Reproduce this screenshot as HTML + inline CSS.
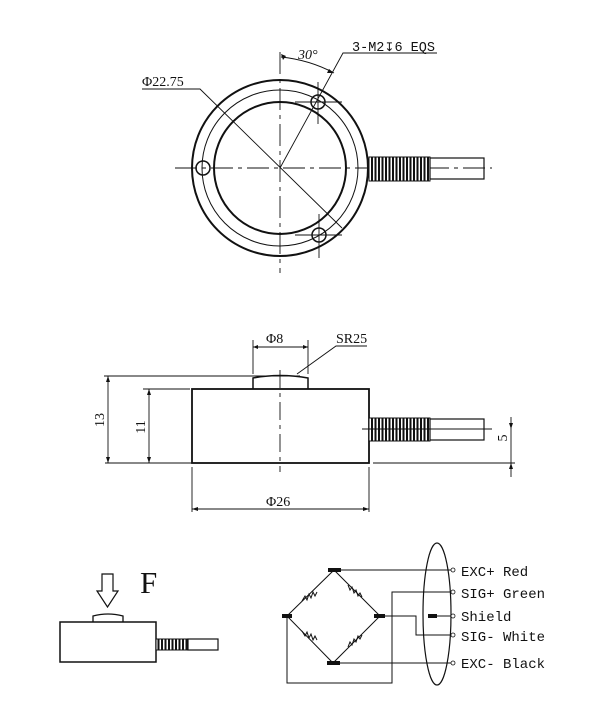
<!DOCTYPE html>
<html><head><meta charset="utf-8"><style>body{margin:0;background:#fff}svg{display:block}</style></head><body>
<svg width="600" height="706" viewBox="0 0 600 706" xmlns="http://www.w3.org/2000/svg" font-family="'Liberation Serif', serif">
<defs>
<pattern id="coil" width="3.5" height="10" patternUnits="userSpaceOnUse"><rect width="3.5" height="10" fill="#fff"/><rect width="2" height="10" fill="#111"/></pattern>
</defs>
<g stroke="#111" fill="none">
<circle cx="280" cy="168" r="88" stroke-width="2"/>
<circle cx="280" cy="168" r="78" stroke-width="1"/>
<circle cx="280" cy="168" r="66" stroke-width="2"/>
<circle cx="203" cy="168" r="7" stroke-width="1.5"/>
<circle cx="318" cy="102" r="7" stroke-width="1.5"/>
<circle cx="319" cy="235" r="7" stroke-width="1.5"/>
<g stroke-width="0.9" stroke-dasharray="22,5,4,5">
<line x1="175" y1="168" x2="492" y2="168"/>
<line x1="280" y1="52" x2="280" y2="273"/>
</g>
<g stroke-width="0.9">
<line x1="318" y1="82" x2="318" y2="124"/><line x1="295" y1="102" x2="342" y2="102"/>
<line x1="319" y1="214" x2="319" y2="258"/><line x1="295" y1="235" x2="342" y2="235"/>
<polyline points="142,89 200,89 342,228"/>
<polyline points="280,168 343,53 437,53"/>
<path d="M281 57 Q310 60 334 73"/>
</g>
<rect x="369" y="157" width="61" height="24" fill="url(#coil)" stroke-width="1"/>
<rect x="430" y="158" width="54" height="21" stroke-width="1.2"/>
<rect x="192" y="389" width="177" height="74" stroke-width="1.8"/>
<path d="M253 389 L253 378 Q280 373 308 378 L308 389" stroke-width="1.5"/>
<line x1="280" y1="370" x2="280" y2="472" stroke-width="0.9" stroke-dasharray="18,5,4,5"/>
<rect x="369" y="418" width="61" height="23" fill="url(#coil)" stroke-width="1"/>
<rect x="430" y="419" width="54" height="21" stroke-width="1.2"/>
<g stroke-width="0.9">
<line x1="362" y1="429" x2="492" y2="429"/>
<line x1="104" y1="376" x2="300" y2="376"/>
<line x1="105" y1="463" x2="192" y2="463"/><line x1="373" y1="463" x2="515" y2="463"/>
<line x1="143" y1="389" x2="190" y2="389"/>
<line x1="108" y1="376" x2="108" y2="463"/>
<line x1="149" y1="389" x2="149" y2="463"/>
<line x1="253" y1="340" x2="253" y2="374"/><line x1="308" y1="340" x2="308" y2="374"/>
<line x1="253" y1="347" x2="308" y2="347"/>
<polyline points="297,374 336,346 367,346"/>
<line x1="192" y1="467" x2="192" y2="512"/><line x1="369" y1="467" x2="369" y2="512"/>
<line x1="192" y1="509" x2="369" y2="509"/>
<line x1="511" y1="417" x2="511" y2="477"/>
</g>
<rect x="60" y="622" width="96" height="40" stroke-width="1.5"/>
<path d="M93 622 L93 616 Q108 612 123 616 L123 622" stroke-width="1.3"/>
<rect x="156" y="639" width="32" height="11" fill="url(#coil)" stroke-width="1"/>
<rect x="188" y="639" width="30" height="11" stroke-width="1.2"/>
<path d="M102 574 L113 574 L113 591 L118 591 L107.5 607 L97 591 L102 591 Z" stroke-width="1.2"/>
<ellipse cx="437" cy="614" rx="14" ry="71" stroke-width="1.2"/>
<g stroke-width="1">
<polyline points="287,616 334,570 380,616 333,663 287,616"/>
<line x1="334" y1="570" x2="453" y2="570"/>
<polyline points="453,592 392,592 392,683 287,683 287,616"/>
<line x1="437" y1="616" x2="453" y2="616"/>
<polyline points="380,616 416,616 416,635 453,635"/>
<line x1="333" y1="663" x2="453" y2="663"/>
</g>
<g fill="#fff" stroke-width="0.8">
<circle cx="453" cy="570" r="2"/><circle cx="453" cy="592" r="2"/><circle cx="453" cy="616" r="2"/><circle cx="453" cy="635" r="2"/><circle cx="453" cy="663" r="2"/>
</g>
<g stroke-width="1">
<path d="M302 601 l3 -5 l2 4 l2 -6 l2 4 l2 -6 l2 4 l2 -4"/>
<path d="M348 585 l2 5 l2 -3 l2 6 l2 -3 l2 6 l2 -3 l2 4"/>
<path d="M302 631 l3 5 l2 -4 l2 6 l2 -4 l2 6 l2 -4 l2 4"/>
<path d="M348 647 l2 -5 l2 3 l2 -6 l2 3 l2 -6 l2 3 l2 -4"/>
</g>
</g>
<g fill="#111" stroke="none">
<rect x="328" y="568" width="13" height="4"/><rect x="282" y="614" width="10" height="4"/>
<rect x="374" y="614" width="11" height="4"/><rect x="327" y="661" width="13" height="4"/>
<rect x="428" y="614" width="9" height="4"/>
<polygon points="281,54 286,56 283,60"/><polygon points="334,73 329,69 327,73"/>
<polygon points="253,347 258,345 258,349"/><polygon points="308,347 303,345 303,349"/>
<polygon points="192,509 198,507 198,511"/><polygon points="369,509 363,507 363,511"/>
<polygon points="108,376 106,382 110,382"/><polygon points="108,463 106,457 110,457"/>
<polygon points="149,389 147,395 151,395"/><polygon points="149,463 147,457 151,457"/>
<polygon points="511,429 509,423 513,423"/><polygon points="511,463 509,469 513,469"/>
</g>
<g fill="#111" font-size="14">
<text x="142" y="86">Φ22.75</text>
<text x="298" y="59" font-style="italic">30°</text>
<text x="352" y="51" font-family="'Liberation Mono', monospace" font-size="13.5">3-M2<tspan font-family="'DejaVu Sans', sans-serif" font-size="12">↧</tspan>6 EQS</text>
<text x="266" y="343">Φ8</text>
<text x="336" y="343">SR25</text>
<text x="266" y="506">Φ26</text>
<text transform="translate(104,420) rotate(-90)" text-anchor="middle">13</text>
<text transform="translate(145,427) rotate(-90)" text-anchor="middle">11</text>
<text transform="translate(507,438) rotate(-90)" text-anchor="middle">5</text>
<text x="140" y="593" font-size="31">F</text>
<g font-family="'Liberation Mono', monospace" font-size="14">
<text x="461" y="576">EXC+ Red</text>
<text x="461" y="598">SIG+ Green</text>
<text x="461" y="621">Shield</text>
<text x="461" y="641">SIG- White</text>
<text x="461" y="668">EXC- Black</text>
</g>
</g>
</svg>
</body></html>
